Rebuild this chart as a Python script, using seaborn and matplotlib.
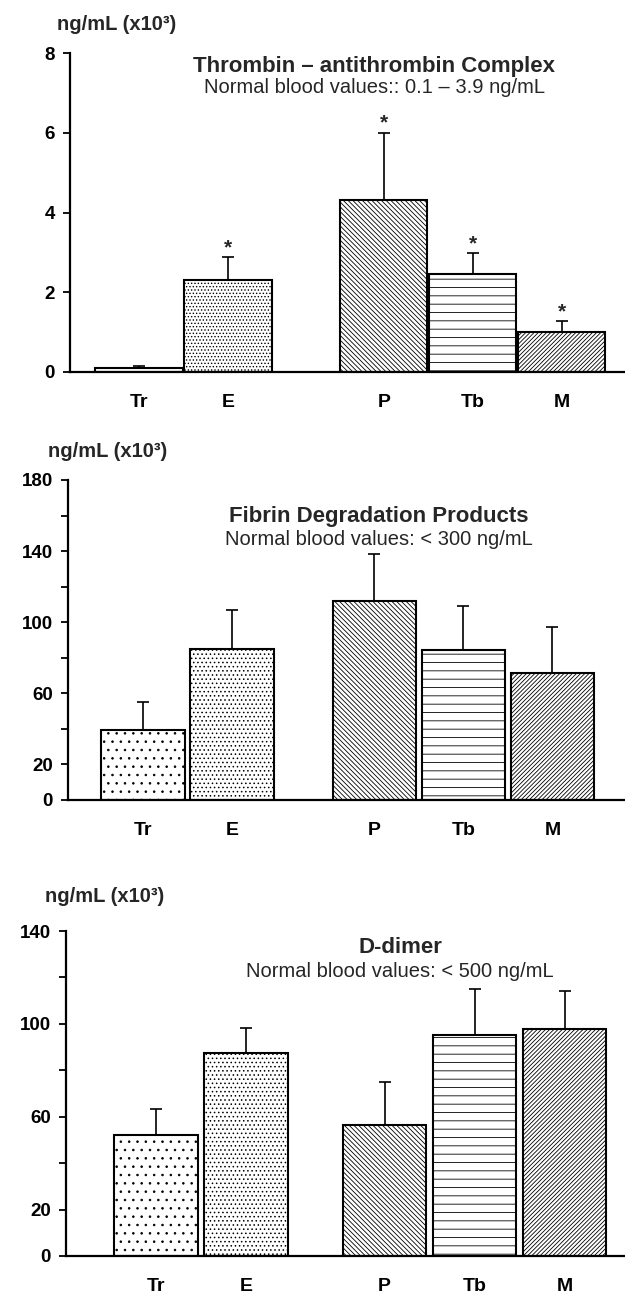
import numpy as np
import pandas as pd
import matplotlib
matplotlib.use("Agg")
import matplotlib.pyplot as plt
import seaborn as sns

# ---------------- data ----------------
groups = ["Tr", "E", "P", "Tb", "M"]

tat_mean = [0.09, 2.30, 4.32, 2.46, 1.00]
tat_sd = [0.06, 0.58, 1.68, 0.52, 0.27]
tat_sig = [False, True, True, True, True]

fdp_mean = [39.4, 85.1, 112.1, 84.4, 71.6]
fdp_sd = [15.9, 21.8, 26.1, 24.9, 25.5]
fdp_sig = [False, False, False, False, False]

dd_mean = [52.1, 87.6, 56.4, 95.2, 97.6]
dd_sd = [11.4, 10.6, 18.7, 19.7, 16.6]
dd_sig = [False, False, False, False, False]

titles = ["Thrombin \u2013 antithrombin Complex",
          "Fibrin Degradation Products",
          "D-dimer"]
subtitles = ["Normal blood values:: 0.1 \u2013 3.9 ng/mL",
             "Normal blood values: < 300 ng/mL",
             "Normal blood values: < 500 ng/mL"]
ylabel = "ng/mL (x10\u00b3)"

tat_ticks = [0, 2, 4, 6, 8]
tat_ticklabels = ["0", "2", "4", "6", "8"]
fdp_ticks = [0, 20, 40, 60, 80, 100, 120, 140, 160, 180]
fdp_ticklabels = ["0", "20", "", "60", "", "100", "", "140", "", "180"]
dd_ticks = [0, 20, 40, 60, 80, 100, 120, 140]
dd_ticklabels = ["0", "20", "", "60", "", "100", "", "140"]

# ---------------- style ----------------
sns.set_style("ticks")
plt.rcParams["font.family"] = ["Liberation Sans", "DejaVu Sans"]
plt.rcParams["hatch.linewidth"] = 0.6
plt.rcParams["hatch.color"] = "black"

W, H = 625, 1294
fig = plt.figure(figsize=(W / 100, H / 100), dpi=100)

# layout per panel (pixels): spine x, y of top, y of zero, positions, xlim, bar width
panels = [
    dict(mean=tat_mean, sd=tat_sd, sig=tat_sig, ylim=8, ticks=tat_ticks,
         tlabels=tat_ticklabels, left=70, top=53, zero=372,
         pos=[0, 1, 2.75, 3.75, 4.75], xlim=(-0.775, 5.46), width=0.98,
         hatches=["..", ".....", "\\" * 7, "--", "/" * 8],
         tx=374, ty=72, sy=93, lx=57, ly=30),
    dict(mean=fdp_mean, sd=fdp_sd, sig=fdp_sig, ylim=180, ticks=fdp_ticks,
         tlabels=fdp_ticklabels, left=68, top=480, zero=800,
         pos=[0, 1, 2.6, 3.6, 4.6], xlim=(-0.843, 5.416), width=0.94,
         hatches=["..", "....", "\\" * 7, "--", "/" * 8],
         tx=379, ty=522, sy=545, lx=48, ly=457),
    dict(mean=dd_mean, sd=dd_sd, sig=dd_sig, ylim=140, ticks=dd_ticks,
         tlabels=dd_ticklabels, left=66, top=931, zero=1256,
         pos=[0, 1, 2.54, 3.54, 4.54], xlim=(-1.0, 5.211), width=0.93,
         hatches=["..", "....", "\\" * 7, "--", "/" * 8],
         tx=400, ty=953, sy=977, lx=45, ly=902),
]

for i, p in enumerate(panels):
    ax = fig.add_axes([p["left"] / W, 1 - p["zero"] / H,
                       1 - p["left"] / W, (p["zero"] - p["top"]) / H])
    df = pd.DataFrame({"pos": p["pos"], "value": p["mean"], "group": groups})
    sns.barplot(data=df, x="pos", y="value", native_scale=True, orient="x",
                color="white", saturation=1, edgecolor="black", linewidth=1.5,
                errorbar=None, width=p["width"], ax=ax, zorder=2)
    for patch, h in zip(ax.patches, p["hatches"]):
        patch.set_hatch(h)
        patch.set_edgecolor("black")
    ax.errorbar(p["pos"], p["mean"], yerr=[np.zeros(len(groups)), p["sd"]],
                fmt="none", ecolor="black", elinewidth=1.2, capsize=4.5,
                capthick=1.2, zorder=3)
    for x, m, s, sg in zip(p["pos"], p["mean"], p["sd"], p["sig"]):
        if sg:
            ax.annotate("*", (x, m + s), xytext=(0, 0), textcoords="offset points",
                        ha="center", va="bottom", fontsize=15, fontweight="bold")
    ax.set_xlim(*p["xlim"])
    ax.set_ylim(0, p["ylim"])
    ax.set_yticks(p["ticks"], labels=p["tlabels"])
    ax.set_xticks(p["pos"], labels=groups)
    ax.set_xlabel("")
    ax.set_ylabel("")
    sns.despine(ax=ax)
    for sp in ("left", "bottom"):
        ax.spines[sp].set_linewidth(1.6)
        ax.spines[sp].set_color("black")
    ax.tick_params(axis="y", direction="out", length=5, width=1.3, pad=6,
                   labelsize=13.5, colors="black")
    ax.tick_params(axis="x", length=0, pad=16, labelsize=14, colors="black")
    for lab in ax.get_xticklabels() + ax.get_yticklabels():
        lab.set_fontweight("bold")
    ax.patch.set_alpha(0)

    fig.text(p["tx"] / W, 1 - p["ty"] / H, titles[i], ha="center", va="baseline",
             fontsize=16, fontweight="bold")
    fig.text(p["tx"] / W, 1 - p["sy"] / H, subtitles[i], ha="center", va="baseline",
             fontsize=14.5)
    fig.text(p["lx"] / W, 1 - p["ly"] / H, ylabel, ha="left", va="baseline",
             fontsize=14.5, fontweight="bold")

fig.savefig("out.png", dpi=100, facecolor="white")
